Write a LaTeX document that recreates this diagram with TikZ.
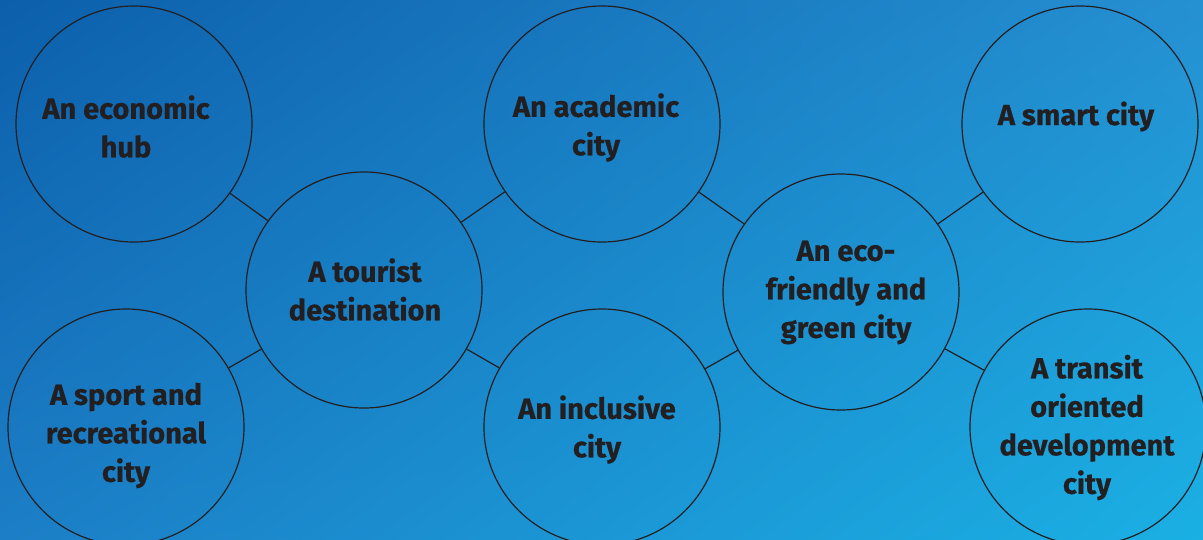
\documentclass[tikz,border=0pt]{standalone}
\usepackage{fontspec}
\usetikzlibrary{shadings}
\setmainfont{Fira Sans}[BoldFont={Fira Sans Bold}, BoldFeatures={FakeBold=0.6}]
\definecolor{ink}{HTML}{231F20}
\definecolor{bgUL}{HTML}{0C5FAB}
\definecolor{bgUR}{HTML}{2590D2}
\definecolor{bgLL}{HTML}{1C7EC6}
\definecolor{bgLR}{HTML}{1AB0E4}
\tikzset{
  bubble/.style={circle, draw=ink, line width=1.2pt, minimum size=236pt, inner sep=0pt},
  lbl/.style={text=ink, align=center, font=\bfseries\fontsize{29}{38.5}\selectfont, inner sep=0pt},
  link/.style={draw=ink, line width=1.2pt}
}
\begin{document}
\begin{tikzpicture}[x=1pt,y=-1pt]
\useasboundingbox (0,0) rectangle (1203,539);
\shade[upper left=bgUL, upper right=bgUR, lower left=bgLL, lower right=bgLR] (0,0) rectangle (1203,539);

\node[bubble] (eco) at (134,124) {};
\node[bubble] (tour) at (364,290) {};
\node[bubble] (sport) at (126,427) {};
\node[bubble] (acad) at (602,124) {};
\node[bubble] (incl) at (602,427) {};
\node[bubble] (green) at (841,292) {};
\node[bubble] (smart) at (1080,124) {};
\node[bubble] (transit) at (1088,427) {};

\draw[link] (eco) -- (tour);
\draw[link] (tour) -- (sport);
\draw[link] (tour) -- (acad);
\draw[link] (tour) -- (incl);
\draw[link] (acad) -- (green);
\draw[link] (incl) -- (green);
\draw[link] (green) -- (smart);
\draw[link] (green) -- (transit);

\node[lbl] (teco) at (126,126.5) {An economic\\hub};
\node[lbl] (ttour) at (365,289.5) {A tourist\\destination};
\node[lbl] (tsport) at (126,435.5) {A sport and\\recreational\\city};
\node[lbl] (tacad) at (596,127.5) {An academic\\city};
\node[lbl] (tincl) at (597,429.5) {An inclusive\\city};
\node[lbl] (tgreen) at (846,292.5) {An eco-\\friendly and\\green city};
\node[lbl] (tsmart) at (1076,116.5) {A smart city};
\node[lbl] (ttransit) at (1087,427.5) {A transit\\oriented\\development\\city};
\end{tikzpicture}
\end{document}
